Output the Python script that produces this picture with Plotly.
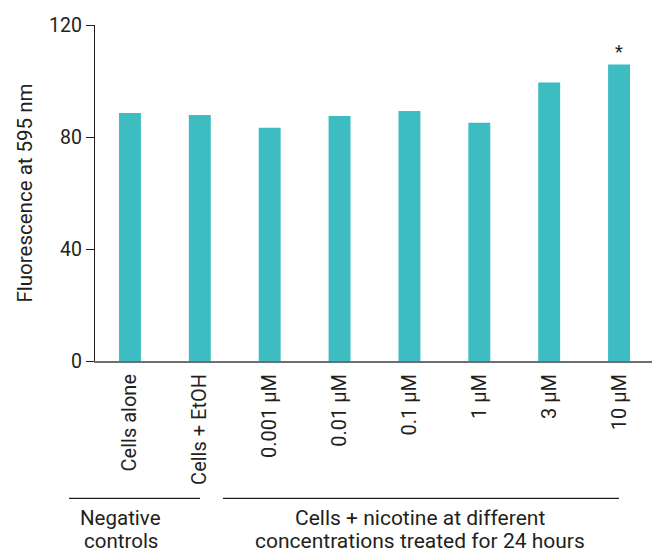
import plotly.graph_objects as go

categories = ["Cells alone", "Cells + EtOH", "0.001 µM", "0.01 µM", "0.1 µM", "1 µM", "3 µM", "10 µM"]
values = [88.6, 87.9, 83.3, 87.5, 89.3, 85.1, 99.5, 105.9]
y_ticks = [0, 40, 80, 120]
significant = ["10 µM"]
group_left_lines = ["Negative", "controls"]
group_right_lines = ["Cells + nicotine at different", "concentrations treated for 24 hours"]

FONT = "Roboto"
TXT = "#231f20"
BAR = "#3dbcc2"

fig = go.Figure(go.Bar(x=categories, y=values, marker=dict(color=BAR, line=dict(width=0))))

for c in significant:
    fig.add_annotation(x=c, y=values[categories.index(c)], text="*", showarrow=False,
                       yanchor="bottom", yshift=0, font=dict(size=18, color=TXT, family=FONT))

# group brackets
fig.add_shape(type="line", xref="paper", yref="paper", x0=-0.0465, x1=0.188, y0=-0.409, y1=-0.409,
              line=dict(color=TXT, width=1.3))
fig.add_shape(type="line", xref="paper", yref="paper", x0=0.229, x1=0.9374, y0=-0.409, y1=-0.409,
              line=dict(color=TXT, width=1.3))
line_y = [-0.4676, -0.536]
for txt, yy in zip(group_left_lines, line_y):
    fig.add_annotation(xref="paper", yref="paper", x=0.0465, y=yy, text=txt, showarrow=False,
                       xanchor="center", yanchor="middle", font=dict(size=20.5, color=TXT, family=FONT))
for txt, yy in zip(group_right_lines, line_y):
    fig.add_annotation(xref="paper", yref="paper", x=0.581, y=yy, text=txt, showarrow=False,
                       xanchor="center", yanchor="middle", font=dict(size=21, color=TXT, family=FONT))

fig.update_layout(
    width=652, height=545,
    margin=dict(l=87, r=6, t=13, b=192),
    plot_bgcolor="white", paper_bgcolor="white",
    bargap=0.686,
    showlegend=False,
    font=dict(family=FONT, color=TXT, size=20),
)
fig.update_xaxes(range=[-0.5, 7.5], showline=True, linecolor="#6d6e71", linewidth=2,
                 ticks="", tickangle=-90, tickfont=dict(size=20, family=FONT, color=TXT),
                 showgrid=False, zeroline=False, ticklabelstandoff=3)
fig.update_yaxes(range=[0, 120], tickvals=y_ticks, showline=True, linecolor="#231f20", linewidth=1.3,
                 ticks="outside", ticklen=8, tickcolor="#231f20", tickwidth=1.3,
                 tickfont=dict(size=19.5, family=FONT, color=TXT), showgrid=False, zeroline=False,
                 title=dict(text="Fluorescence at 595 nm", font=dict(size=20.5, family=FONT, color=TXT), standoff=10))

fig.write_html("out.html")
